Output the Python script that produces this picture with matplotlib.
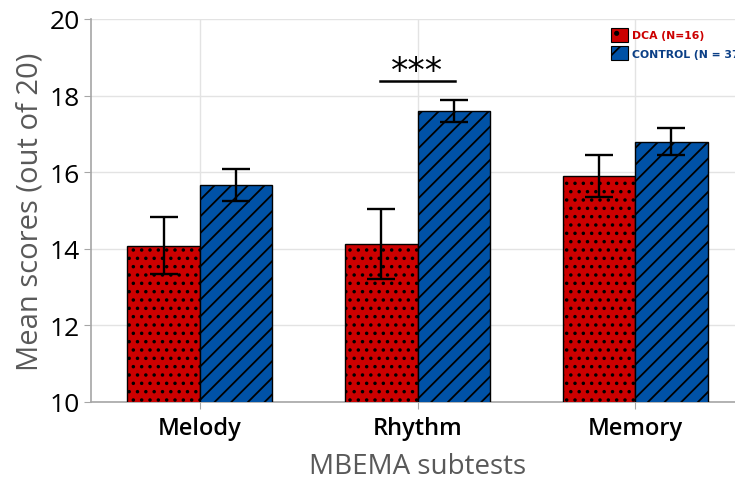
import numpy as np
import matplotlib
matplotlib.use("Agg")
import matplotlib.pyplot as plt
from matplotlib.patches import Patch

plt.rcParams['font.family'] = ['Open Sans', 'DejaVu Sans']
plt.rcParams['hatch.linewidth'] = 1.3

# data
subtests = ["Melody", "Rhythm", "Memory"]
dca_mean = [14.08, 14.13, 15.90]
dca_err = [0.75, 0.92, 0.55]
ctrl_mean = [15.66, 17.60, 16.80]
ctrl_err = [0.42, 0.29, 0.36]
legend_labels = ["DCA (N=16)", "CONTROL (N = 37)"]

red = "#cc0000"
blue = "#0052a6"
grey = "#a6a6a6"

fig = plt.figure(figsize=(7.35, 4.81), dpi=100)
# axes runs a little past the right edge, like the cropped original
ax = fig.add_axes([91 / 735, 78 / 481, 653 / 735, 383 / 481])

x = np.arange(len(subtests))
w = 0.333

ax.bar(x - w / 2, dca_mean, w, color=red, edgecolor="black", linewidth=1,
       hatch="..", zorder=3)
ax.bar(x + w / 2, ctrl_mean, w, color=blue, edgecolor="black", linewidth=1,
       hatch="//", zorder=3)
ax.errorbar(x - w / 2, dca_mean, yerr=dca_err, fmt="none", ecolor="black",
            elinewidth=1.7, capsize=10, capthick=1.7, zorder=4)
ax.errorbar(x + w / 2, ctrl_mean, yerr=ctrl_err, fmt="none", ecolor="black",
            elinewidth=1.7, capsize=10, capthick=1.7, zorder=4)

# significance marker over Rhythm
ax.plot([0.83, 1.17], [18.39, 18.39], color="black", lw=1.8, zorder=4)
ax.text(1, 18.2, "***", ha="center", va="bottom", fontsize=25,
        family="DejaVu Sans", zorder=4)

ax.set_xlim(-0.5, 2.5)
ax.set_ylim(10, 20)
ax.set_yticks(np.arange(10, 21, 2))
ax.set_xticks(x)
ax.set_xticklabels(subtests, fontsize=17, fontweight="semibold")
ax.tick_params(axis="y", labelsize=19, color=grey, length=5, pad=3)
ax.tick_params(axis="x", color=grey, length=5, pad=5)
ax.grid(True, color="#e3e3e3", linewidth=1, zorder=0)
for s in ["top", "right"]:
    ax.spines[s].set_visible(False)
for s in ["left", "bottom"]:
    ax.spines[s].set_color(grey)
    ax.spines[s].set_linewidth(1.2)

ax.set_ylabel("Mean scores (out of 20)", fontsize=21, color="#595959", labelpad=4)
ax.set_xlabel("MBEMA subtests", fontsize=20, color="#595959", labelpad=9)

handles = [Patch(facecolor=red, edgecolor="black", hatch=".", linewidth=0.8),
           Patch(facecolor=blue, edgecolor="black", hatch="/", linewidth=0.8)]
leg = fig.legend(handles, legend_labels, loc="upper left",
                 bbox_to_anchor=(611 / 735, 1 - 29 / 481), frameon=False,
                 prop={"family": "DejaVu Sans", "size": 7.8, "weight": "bold"},
                 handlelength=1.55, handleheight=1.55, handletextpad=0.35,
                 labelspacing=0.45, borderaxespad=0, borderpad=0)
for t, c in zip(leg.get_texts(), [red, "#0b3f86"]):
    t.set_color(c)

fig.savefig("out.png", dpi=100)
